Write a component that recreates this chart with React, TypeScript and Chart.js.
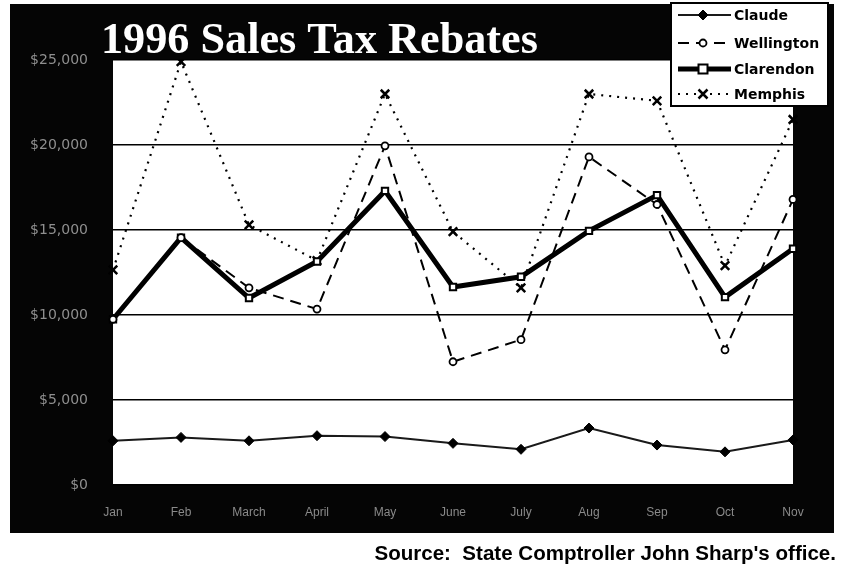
import React, { useEffect, useRef } from 'react';
import { Chart, registerables } from 'chart.js';
Chart.register(...registerables);

const months = ['Jan', 'Feb', 'March', 'April', 'May', 'June', 'July', 'Aug', 'Sep', 'Oct', 'Nov'];
const claude = [2600, 2800, 2600, 2900, 2850, 2450, 2100, 3350, 2350, 1950, 2650];
const wellington = [9750, 14550, 11600, 10350, 19950, 7250, 8550, 19300, 16500, 7950, 16800];
const clarendon = [9750, 14550, 11000, 13150, 17300, 11650, 12250, 14950, 17050, 11050, 13900];
const memphis = [12650, 24900, 15300, 13200, 23000, 14900, 11600, 23000, 22600, 12900, 21500];
const yMin = 0;
const yMax = 25000;
const yStep = 5000;
const titleText = '1996 Sales Tax Rebates';
const sourceText = "Source:  State Comptroller John Sharp's office.";

const W = 853;
const H = 565;

function drawMarker(ctx: CanvasRenderingContext2D, style: string, x: number, y: number, r: number, fill: string, stroke: string, bw: number) {
  ctx.save();
  ctx.setLineDash([]);
  ctx.lineWidth = bw;
  ctx.strokeStyle = stroke;
  ctx.fillStyle = fill;
  ctx.beginPath();
  if (style === 'rectRot') {
    ctx.moveTo(x, y - r); ctx.lineTo(x + r, y); ctx.lineTo(x, y + r); ctx.lineTo(x - r, y); ctx.closePath();
    ctx.fill(); ctx.stroke();
  } else if (style === 'circle') {
    ctx.arc(x, y, r, 0, Math.PI * 2); ctx.fill(); ctx.stroke();
  } else if (style === 'rect') {
    ctx.rect(x - r, y - r, 2 * r, 2 * r); ctx.fill(); ctx.stroke();
  } else if (style === 'crossRot') {
    const d = r * 0.75;
    ctx.moveTo(x - d, y - d); ctx.lineTo(x + d, y + d);
    ctx.moveTo(x + d, y - d); ctx.lineTo(x - d, y + d);
    ctx.stroke();
  }
  ctx.restore();
}

function fitFont(ctx: CanvasRenderingContext2D, text: string, base: string, family: string, target: number, start: number) {
  ctx.font = `${base} ${start}px ${family}`;
  const w = ctx.measureText(text).width;
  const size = start * target / w;
  ctx.font = `${base} ${size}px ${family}`;
}

const framePlugin = {
  id: 'frame',
  beforeDraw(chart: any) {
    const { ctx, chartArea } = chart;
    ctx.save();
    ctx.fillStyle = '#ffffff';
    ctx.fillRect(0, 0, W, H);
    ctx.fillStyle = '#050505';
    ctx.fillRect(10, 4, 824, 529);
    ctx.fillStyle = '#ffffff';
    ctx.fillRect(chartArea.left, chartArea.top, chartArea.right - chartArea.left, chartArea.bottom - chartArea.top);
    ctx.restore();
  },
  afterDraw(chart: any) {
    const { ctx } = chart;
    ctx.save();
    // title
    fitFont(ctx, titleText, 'bold', '"Liberation Serif", "DejaVu Serif", serif', 437, 44);
    ctx.fillStyle = '#ffffff';
    ctx.textBaseline = 'alphabetic';
    ctx.textAlign = 'left';
    ctx.fillText(titleText, 101, 53);

    // legend box
    ctx.fillStyle = '#ffffff';
    ctx.fillRect(671, 3, 157, 103);
    ctx.strokeStyle = '#000000';
    ctx.lineWidth = 2;
    ctx.strokeRect(671, 3, 157, 103);
    const rows = [15, 43, 69, 94];
    chart.data.datasets.forEach((ds: any, i: number) => {
      const y = rows[i];
      ctx.save();
      ctx.strokeStyle = ds.borderColor;
      ctx.lineWidth = ds.borderWidth;
      ctx.setLineDash(ds.borderDash || []);
      ctx.beginPath();
      ctx.moveTo(678, y);
      ctx.lineTo(731, y);
      ctx.stroke();
      ctx.restore();
      drawMarker(ctx, ds.pointStyle, 703, y, ds.pointRadius, ds.pointBackgroundColor, ds.pointBorderColor, ds.pointBorderWidth);
      ctx.fillStyle = '#000000';
      ctx.font = 'bold 14px "DejaVu Sans", sans-serif';
      ctx.textBaseline = 'middle';
      ctx.textAlign = 'left';
      ctx.fillText(ds.label, 734, y + 1);
    });

    // source
    ctx.fillStyle = '#000000';
    fitFont(ctx, sourceText, 'bold', '"Liberation Sans", Arial, sans-serif', 462, 18);
    ctx.textAlign = 'right';
    ctx.textBaseline = 'middle';
    ctx.fillText(sourceText, 836, 554);
    ctx.restore();
  },
};

export default function App() {
  const ref = useRef<HTMLCanvasElement | null>(null);
  useEffect(() => {
    document.body.style.margin = '0';
    const chart = new Chart(ref.current as HTMLCanvasElement, {
      type: 'line',
      data: {
        labels: months,
        datasets: [
          {
            label: 'Claude', data: claude, borderColor: '#1a1a1a', borderWidth: 2, borderDash: [],
            pointStyle: 'rectRot', pointRadius: 5, pointBackgroundColor: '#000000', pointBorderColor: '#000000', pointBorderWidth: 1,
            tension: 0,
          },
          {
            label: 'Wellington', data: wellington, borderColor: '#000000', borderWidth: 2, borderDash: [11, 7],
            pointStyle: 'circle', pointRadius: 3.5, pointBackgroundColor: '#ffffff', pointBorderColor: '#000000', pointBorderWidth: 1.8,
            tension: 0,
          },
          {
            label: 'Clarendon', data: clarendon, borderColor: '#000000', borderWidth: 5, borderDash: [],
            pointStyle: 'rect', pointRadius: 4.5, pointBackgroundColor: '#ffffff', pointBorderColor: '#000000', pointBorderWidth: 2,
            tension: 0,
          },
          {
            label: 'Memphis', data: memphis, borderColor: '#000000', borderWidth: 2.2, borderDash: [2, 6],
            pointStyle: 'crossRot', pointRadius: 6, pointBackgroundColor: '#000000', pointBorderColor: '#000000', pointBorderWidth: 2.5,
            tension: 0,
          },
        ] as any,
      },
      options: {
        responsive: false,
        animation: false,
        layout: { padding: { left: 0, right: 60, top: 60, bottom: 0 } },
        plugins: { legend: { display: false }, title: { display: false }, tooltip: { enabled: false } },
        scales: {
          x: {
            offset: false,
            grid: { display: false, drawTicks: false },
            border: { display: false },
            ticks: { color: '#8a8a8a', font: { size: 12, family: '"Liberation Sans", sans-serif' }, padding: 20, autoSkip: false, maxRotation: 0 },
            afterFit: (s: any) => { s.height = 80; },
          },
          y: {
            min: yMin, max: yMax,
            grid: { color: '#000000', lineWidth: 1.6, drawTicks: false },
            border: { display: false },
            ticks: {
              stepSize: yStep, color: '#8f8f8f', padding: 25,
              font: { size: 14, family: '"DejaVu Sans", sans-serif' },
              callback: (v: any) => '$' + Number(v).toLocaleString('en-US'),
            },
            afterFit: (s: any) => { s.width = 113; },
          },
        },
      },
      plugins: [framePlugin],
    });
    return () => chart.destroy();
  }, []);
  return (
    <div style={{ position: 'fixed', left: 0, top: 0, width: W, height: H }}>
      <canvas ref={ref} width={W} height={H} style={{ width: W, height: H, display: 'block' }} />
    </div>
  );
}
